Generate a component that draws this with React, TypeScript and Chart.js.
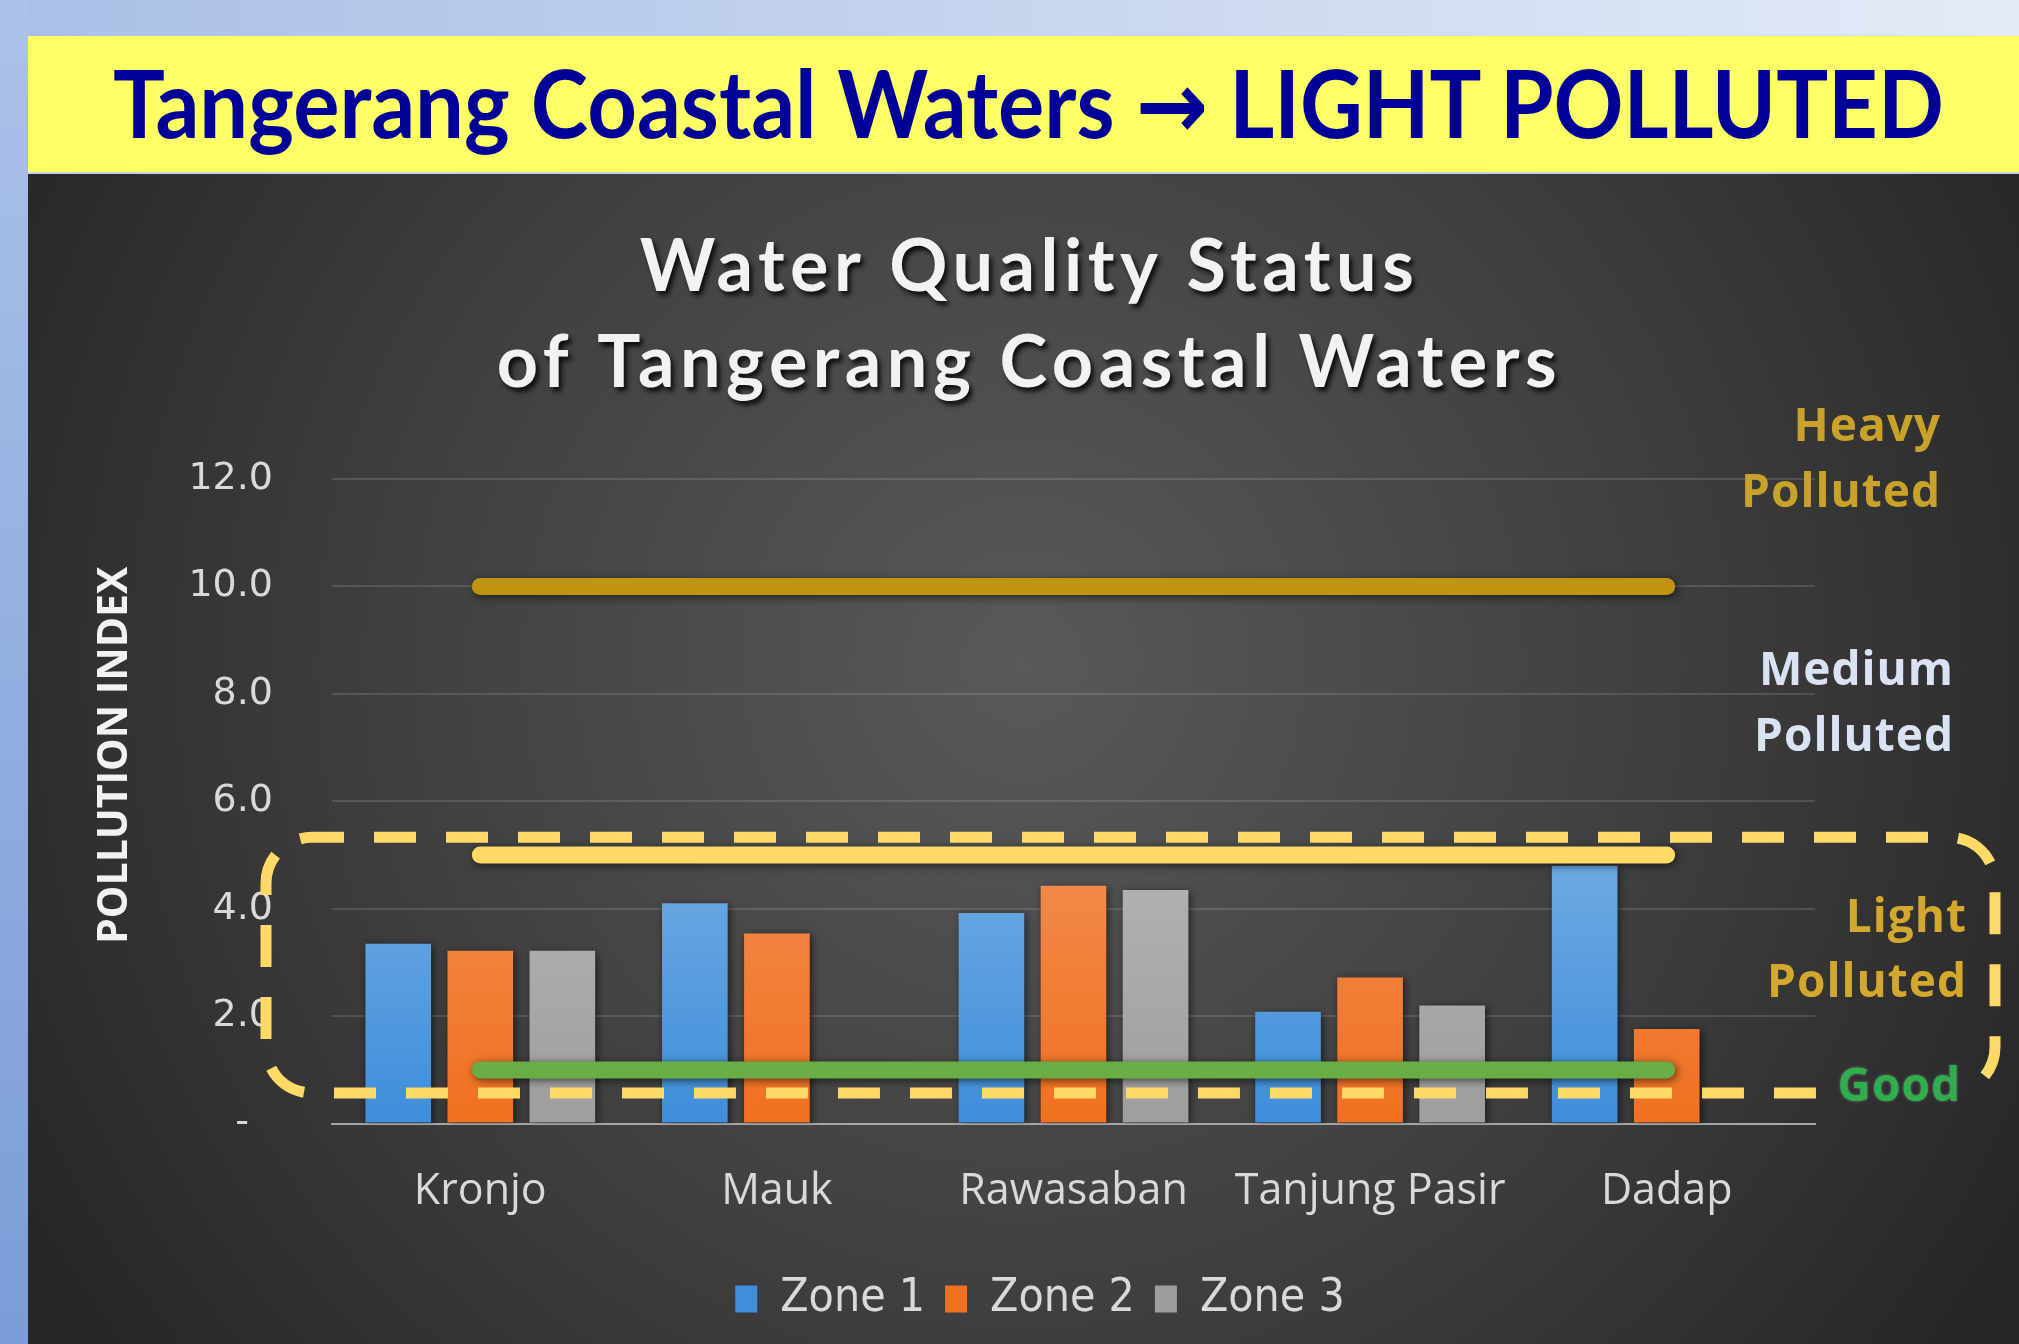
import React, { useEffect, useRef } from 'react';
import { Chart, registerables } from 'chart.js';

Chart.register(...registerables);

// ---------- data ----------
const categories = ['Kronjo', 'Mauk', 'Rawasaban', 'Tanjung Pasir', 'Dadap'];
const seriesNames = ['Zone 1', 'Zone 2', 'Zone 3'];
const zone1 = [3.35, 4.1, 3.92, 2.08, 4.8];
const zone2 = [3.22, 3.54, 4.43, 2.72, 1.76];
const zone3: (number | null)[] = [3.22, null, 4.35, 2.2, null];
const heavyLimit = [10, 10, 10, 10, 10];
const mediumLimit = [5, 5, 5, 5, 5];
const goodLimit = [1, 1, 1, 1, 1];
const yMin = 0;
const yMax = 12;
const yStep = 2;
const bannerLeft = 'Tangerang Coastal Waters ';
const bannerArrow = '\u2192';
const bannerRight = ' LIGHT POLLUTED';
const chartTitle = ['Water Quality Status', 'of Tangerang Coastal Waters'];
const yAxisTitle = 'POLLUTION INDEX';
const heavyLabel = ['Heavy', 'Polluted'];
const mediumLabel = ['Medium', 'Polluted'];
const lightLabel = ['Light', 'Polluted'];
const goodLabel = ['Good'];

// ---------- styling helpers ----------
const barColors = [
  ['#6eaae2', '#3f8ddb'],
  ['#f28b4c', '#f07020'],
  ['#b3b3b3', '#9e9e9e'],
];

function barGradient(idx: number) {
  return (ctx: any) => {
    const chart = ctx.chart;
    const ca = chart.chartArea;
    if (!ca) return barColors[idx][1];
    const y = chart.scales.y;
    const g = chart.ctx.createLinearGradient(0, y.getPixelForValue(5), 0, ca.bottom);
    g.addColorStop(0, barColors[idx][0]);
    g.addColorStop(1, barColors[idx][1]);
    return g;
  };
}

const TITLE_SHIFT = 46;

const decorPlugin = {
  id: 'decor',
  afterLayout(chart: any) {
    // let the y-axis labels/title use the space left of the padded area
    chart.scales.y.left = 0;
  },
  beforeDraw(chart: any) {
    const { ctx, width, height } = chart;
    // shift the y-axis title upward only while the axis layer is drawn
    const y = chart.scales.y;
    y.top -= TITLE_SHIFT;
    y.bottom -= TITLE_SHIFT;

    ctx.save();
    const cx = width * 0.5;
    const cy = height * 0.42;
    const g = ctx.createRadialGradient(cx, cy, 0, cx, cy, width * 0.58);
    g.addColorStop(0, '#595959');
    g.addColorStop(0.55, '#3f3f3f');
    g.addColorStop(1, '#262626');
    ctx.fillStyle = g;
    ctx.fillRect(0, 0, width, height);

    // chart title
    ctx.font = '700 72px Lato';
    ctx.letterSpacing = '5.5px';
    ctx.textAlign = 'center';
    ctx.textBaseline = 'middle';
    ctx.shadowColor = 'rgba(0,0,0,0.85)';
    ctx.shadowOffsetX = 3;
    ctx.shadowOffsetY = 4;
    ctx.shadowBlur = 5;
    ctx.fillStyle = '#f2f2f2';
    ctx.fillText(chartTitle[0], width / 2 + 6, 94);
    ctx.fillText(chartTitle[1], width / 2 + 6, 190);
    ctx.restore();
  },
  beforeDatasetsDraw(chart: any) {
    const y = chart.scales.y;
    y.top += TITLE_SHIFT;
    y.bottom += TITLE_SHIFT;
  },
  beforeDatasetDraw(chart: any) {
    const ctx = chart.ctx;
    ctx.save();
    ctx.shadowColor = 'rgba(0,0,0,0.6)';
    ctx.shadowBlur = 8;
    ctx.shadowOffsetX = 2;
    ctx.shadowOffsetY = 2;
  },
  afterDatasetDraw(chart: any) {
    chart.ctx.restore();
  },
  afterDatasetsDraw(chart: any) {
    const { ctx, chartArea: ca, scales } = chart;
    const y = scales.y;
    ctx.save();
    ctx.textAlign = 'right';
    ctx.textBaseline = 'middle';
    ctx.letterSpacing = '1px';
    ctx.font = '700 46px "Open Sans"';

    const drawLabel = (lines: string[], vals: number[], dx: number, color: string) => {
      ctx.fillStyle = color;
      lines.forEach((t, i) => ctx.fillText(t, ca.right + dx, y.getPixelForValue(vals[i])));
    };

    // good label box for clipping the dashed frame
    const goodX = ca.right + 146;
    const goodY = y.getPixelForValue(0.66);
    const goodW = ctx.measureText(goodLabel[0]).width;

    // dashed frame around the light-polluted band
    ctx.save();
    ctx.beginPath();
    ctx.rect(0, 0, chart.width, chart.height);
    ctx.rect(goodX - goodW - 14, goodY - 26, goodW + 22, 52);
    ctx.clip('evenodd');
    const top = y.getPixelForValue(5.33);
    const bot = y.getPixelForValue(0.57);
    const left = ca.left - 66;
    const right = ca.right + 180;
    ctx.setLineDash([42, 30]);
    ctx.lineDashOffset = 10;
    ctx.lineWidth = 11;
    ctx.strokeStyle = '#ffd966';
    ctx.beginPath();
    ctx.roundRect(left, top, right - left, bot - top, 46);
    ctx.stroke();
    ctx.restore();

    drawLabel(heavyLabel, [12.95, 11.73], 126, '#c9a22a');
    drawLabel(mediumLabel, [8.41, 7.18], 139, '#dae3f3');
    drawLabel(lightLabel, [3.81, 2.6], 152, '#d2a82e');
    ctx.save();
    ctx.shadowColor = 'rgba(255,255,255,0.35)';
    ctx.shadowBlur = 3;
    drawLabel(goodLabel, [0.66], 146, '#2fae4e');
    ctx.restore();
    ctx.restore();
  },
};

export default function App() {
  const canvasRef = useRef<HTMLCanvasElement>(null);
  const bannerRef = useRef<HTMLSpanElement>(null);

  useEffect(() => {
    const span = bannerRef.current;
    if (span) {
      span.style.transform = 'none';
      const w = span.offsetWidth;
      if (w > 0) span.style.transform = `scaleX(${1831 / w})`;
    }
    const canvas = canvasRef.current;
    if (!canvas) return;

    const lineDs = (label: string, data: number[], color: string) => ({
      type: 'line' as const,
      label,
      data,
      borderColor: color,
      backgroundColor: color,
      borderWidth: 17,
      borderCapStyle: 'round' as const,
      pointRadius: 0,
      pointHoverRadius: 0,
      fill: false,
      tension: 0,
      order: 0,
    });

    const barDs = (i: number, data: (number | null)[]) => ({
      type: 'bar' as const,
      label: seriesNames[i],
      data,
      backgroundColor: barGradient(i),
      borderWidth: 0,
      barPercentage: 0.8,
      categoryPercentage: 0.83,
      order: 1,
    });

    const chart = new Chart(canvas, {
      type: 'bar',
      data: {
        labels: categories,
        datasets: [
          lineDs('Heavy limit', heavyLimit, '#c09410'),
          lineDs('Medium limit', mediumLimit, '#ffd966'),
          lineDs('Good limit', goodLimit, '#6aad44'),
          barDs(0, zone1),
          barDs(1, zone2),
          barDs(2, zone3),
        ] as any,
      },
      options: {
        animation: false,
        responsive: false,
        devicePixelRatio: 1,
        layout: { padding: { left: 237, right: 204, top: 305, bottom: 12 } },
        plugins: {
          title: { display: false },
          tooltip: { enabled: false },
          legend: {
            display: true,
            position: 'bottom',
            labels: {
              boxWidth: 22,
              boxHeight: 27,
              padding: 20,
              color: '#d9d9d9',
              font: { family: '"DejaVu Sans Condensed", "DejaVu Sans"', size: 46 },
              generateLabels: () =>
                seriesNames.map((n, i) => ({
                  text: n,
                  fillStyle: barColors[i][1],
                  strokeStyle: barColors[i][1],
                  lineWidth: 0,
                  hidden: false,
                  datasetIndex: 3 + i,
                  fontColor: '#d9d9d9',
                })),
            },
          },
        },
        scales: {
          x: {
            grid: { display: false, drawTicks: false },
            border: { display: true, color: '#a6a6a6', width: 2 },
            ticks: {
              padding: 42,
              color: '#d9d9d9',
              font: { family: '"Open Sans"', size: 43 },
              maxRotation: 0,
              autoSkip: false,
            },
            afterFit: (s: any) => {
              s.height = 132.4;
            },
          },
          y: {
            min: yMin,
            max: yMax,
            ticks: {
              stepSize: yStep,
              padding: 59,
              color: '#d9d9d9',
              font: { family: '"DejaVu Sans"', size: 38 },
              callback: (v: any) => (Number(v) === 0 ? '-  ' : Number(v).toFixed(1)),
            },
            grid: { color: 'rgba(255,255,255,0.13)', lineWidth: 2, drawTicks: false },
            border: { display: false },
            title: {
              display: true,
              text: yAxisTitle,
              color: '#f2f2f2',
              font: { family: '"Open Sans"', weight: 'bold', size: 41 },
              padding: { top: 63, bottom: 0 },
            },
            afterFit: (s: any) => {
              s.width = 67;
            },
          },
        },
      },
      plugins: [decorPlugin],
    } as any);

    return () => chart.destroy();
  }, []);

  return (
    <div
      style={{
        position: 'fixed',
        left: 0,
        top: 0,
        width: 2019,
        height: 1344,
        overflow: 'hidden',
        background: 'linear-gradient(to right, #a9bfe6, #e4ebf7)',
      }}
    >
      <div
        style={{
          position: 'absolute',
          left: 0,
          top: 0,
          width: 28,
          height: 1344,
          background: 'linear-gradient(to bottom, #abc2e9, #7b9cd8)',
        }}
      />
      <div
        style={{
          position: 'absolute',
          left: 28,
          top: 36,
          width: 1991,
          height: 138,
          background: '#ffff66',
          borderBottom: '2px solid #c8d4ee',
          boxSizing: 'border-box',
          display: 'flex',
          alignItems: 'center',
          justifyContent: 'center',
          paddingLeft: 10,
        }}
      >
        <span
          ref={bannerRef}
          style={{
            display: 'inline-block',
            whiteSpace: 'nowrap',
            fontFamily: 'Lato, "Open Sans", sans-serif',
            fontWeight: 700,
            fontSize: 94,
            lineHeight: '110px',
            color: '#000099',
            transformOrigin: 'center center',
          }}
        >
          {bannerLeft}
          <span style={{ fontFamily: '"DejaVu Sans"', fontWeight: 700 }}>{bannerArrow}</span>
          {bannerRight}
        </span>
      </div>
      <canvas
        ref={canvasRef}
        width={1991}
        height={1170}
        style={{ position: 'absolute', left: 28, top: 174, width: 1991, height: 1170 }}
      />
    </div>
  );
}
